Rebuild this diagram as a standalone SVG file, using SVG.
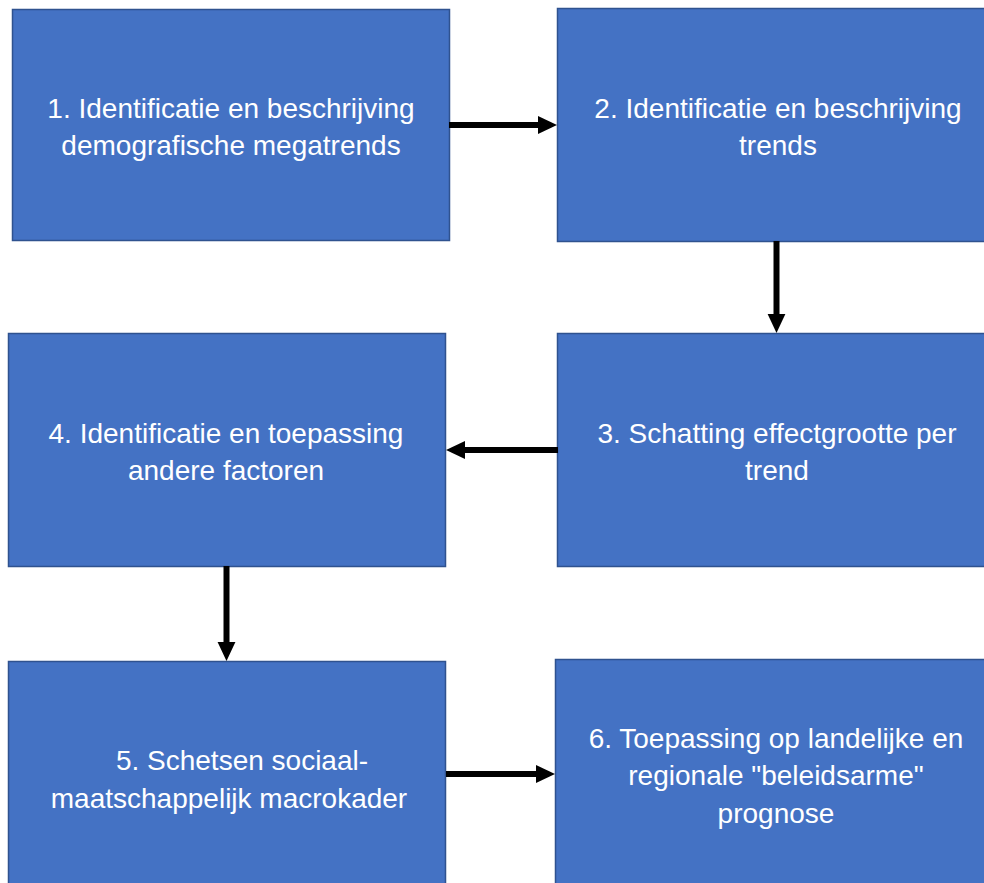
<svg xmlns="http://www.w3.org/2000/svg" width="984" height="883" viewBox="0 0 984 883">
<style>
.box{fill:#4472C4;stroke:#2F528F;stroke-width:1.5}
.t{font-family:"Liberation Sans",Arial,sans-serif;font-size:28px;fill:#ffffff;text-anchor:middle}
.c{stroke:#000;stroke-width:6;fill:none}
</style>
<defs>
<marker id="ah" markerWidth="4" markerHeight="4" refX="1.6" refY="2" orient="auto" markerUnits="strokeWidth">
<path d="M0,0.5 L3.2,2 L0,3.5 Z" fill="#000"/>
</marker>
</defs>
<rect width="984" height="883" fill="#ffffff"/>
<g id="n1"><rect class="box" x="12.5" y="9.5" width="437" height="231"/>
<text class="t"><tspan x="231" y="118">1. Identificatie en beschrijving</tspan><tspan x="231" y="155">demografische megatrends</tspan></text></g>
<g id="n2"><rect class="box" x="557.5" y="8.5" width="442" height="233"/>
<text class="t"><tspan x="778" y="118">2. Identificatie en beschrijving</tspan><tspan x="778" y="155">trends</tspan></text></g>
<g id="n3"><rect class="box" x="557.5" y="333.5" width="442" height="233"/>
<text class="t"><tspan x="777" y="443">3. Schatting effectgrootte per</tspan><tspan x="777" y="480">trend</tspan></text></g>
<g id="n4"><rect class="box" x="8.5" y="333.5" width="437" height="233"/>
<text class="t"><tspan x="226" y="443">4. Identificatie en toepassing</tspan><tspan x="226" y="480">andere factoren</tspan></text></g>
<g id="n5"><rect class="box" x="8.5" y="661.5" width="437" height="240"/>
<text class="t"><tspan x="242" y="770">5. Schetsen sociaal-</tspan><tspan x="229" y="808">maatschappelijk macrokader</tspan></text></g>
<g id="n6"><rect class="box" x="555.5" y="659.5" width="442" height="240"/>
<text class="t"><tspan x="776" y="748">6. Toepassing op landelijke en</tspan><tspan x="776" y="785">regionale "beleidsarme"</tspan><tspan x="776" y="823">prognose</tspan></text></g>
<g id="connectors">
<path class="c" d="M449,125 L547.4,125" marker-end="url(#ah)"/>
<path class="c" d="M776.5,241 L776.5,323.4" marker-end="url(#ah)"/>
<path class="c" d="M558,450 L455.6,450" marker-end="url(#ah)"/>
<path class="c" d="M226.5,566 L226.5,651.4" marker-end="url(#ah)"/>
<path class="c" d="M446,774 L545.4,774" marker-end="url(#ah)"/>
</g>
</svg>
